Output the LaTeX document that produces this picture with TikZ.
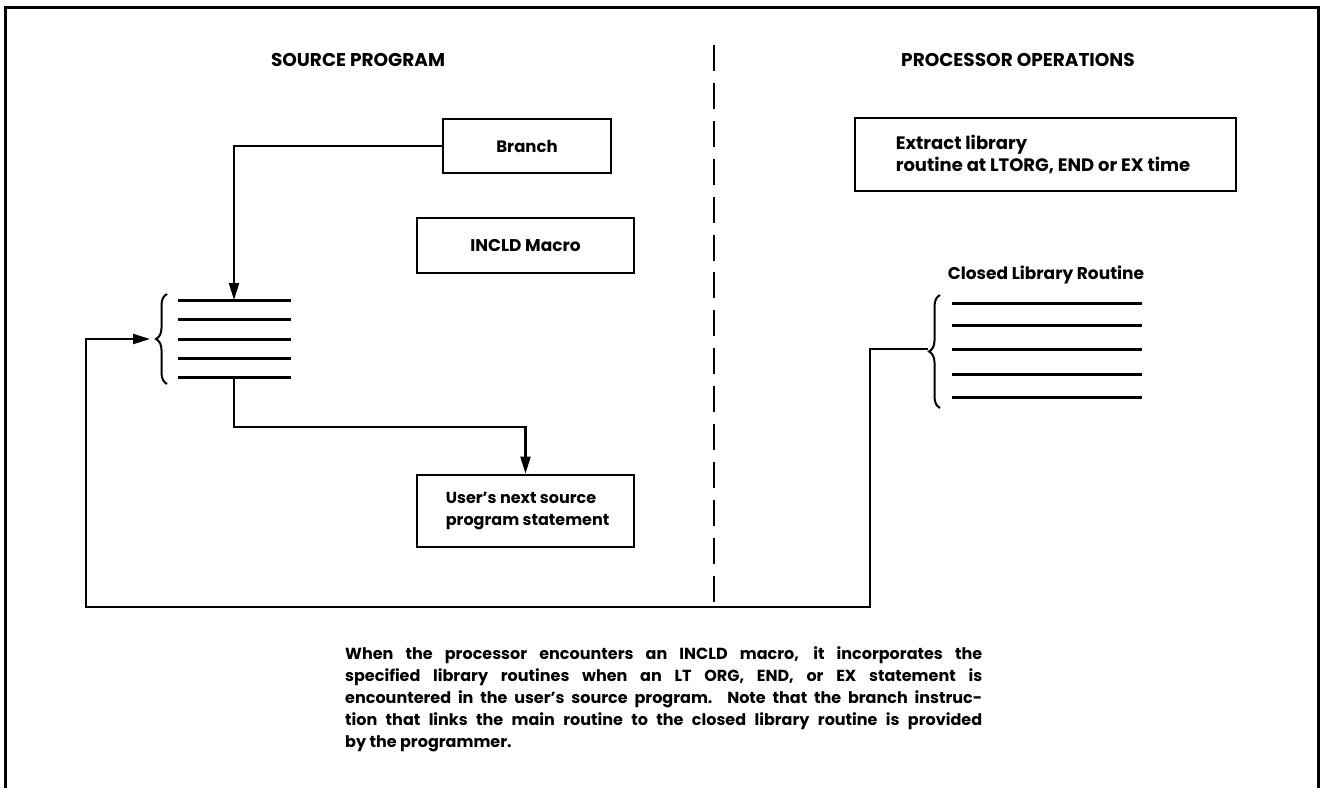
\documentclass[tikz,border=0pt]{standalone}
\usepackage{fontspec}
\setmainfont{Poppins}
\usetikzlibrary{arrows.meta,decorations.pathreplacing}
\begin{document}
\begin{tikzpicture}[x=1pt,y=-1pt,
  box/.style={draw,line width=2.8pt,inner sep=0pt,font=\bfseries\fontsize{17}{22}\selectfont},
  conn/.style={line width=2.3pt},
  arr/.style={conn,-{Triangle[length=17pt,width=10pt]}},
  rulel/.style={line width=3pt},
  bracestyle/.style={line width=2pt,decorate,decoration={brace,amplitude=11pt}},
  lbl/.style={font=\bfseries\fontsize{17}{22}\selectfont,inner sep=0pt,align=left},
  titlestyle/.style={font=\bfseries\fontsize{18.5}{22}\selectfont,inner sep=0pt},
  para/.style={font=\bfseries\fontsize{16}{22}\selectfont,inner sep=0pt,align=left}
]
\useasboundingbox (0,0) rectangle (1322,788);
% frame
\coordinate (fbl) at (5,788);
\coordinate (ftl) at (5,7);
\coordinate (ftr) at (1318,7);
\coordinate (fbr) at (1318,788);
\draw[rulel] (fbl) -- (ftl) -- (ftr) -- (fbr);

% titles
\node[titlestyle] (t1) at (358,60) {SOURCE PROGRAM};
\node[titlestyle] (t2) at (1018,60) {PROCESSOR OPERATIONS};

% dashed divider
\coordinate (dtop) at (714,45);
\coordinate (dbot) at (714,602);
\draw[line width=2.4pt,dash pattern=on 26pt off 11.9pt] (dtop) -- (dbot);

% boxes
\node[box,minimum width=168pt,minimum height=54pt,font=\bfseries\fontsize{16.5}{22}\selectfont] (br) at (527,146) {Branch};
\node[box,minimum width=217pt,minimum height=55pt] (inc) at (525.5,245.5) {INCLD Macro};
\node[box,minimum width=381pt,minimum height=73pt] (ext) at (1045.5,154.5) {};
\node[lbl,anchor=west,font=\bfseries\fontsize{18}{22}\selectfont] (extt) at ([xshift=42pt]ext.west) {Extract library\\routine at LTORG, END or EX time};
\node[box,minimum width=217pt,minimum height=72pt] (usr) at (525.5,511) {};
\node[lbl,anchor=west,font=\bfseries\fontsize{16}{22}\selectfont] (usrt) at ([xshift=30pt]usr.west) {User’s next source\\program statement};

% left statement lines
\foreach \i/\y in {1/300,2/319,3/339,4/358,5/377}{
  \coordinate (la\i) at (178,\y);
  \coordinate (lb\i) at (291,\y);
  \draw[rulel] (la\i) -- (lb\i);
}
\coordinate (lbrb) at (167,384);
\coordinate (lbrt) at (167,294);
\draw[bracestyle] (lbrb) -- (lbrt);
\coordinate (ltip) at (150,339);
\coordinate (lin) at (234,300);
\coordinate (lout) at (234,377);

% right library routine lines
\node[lbl] (clr) at (1046,275) {Closed Library Routine};
\foreach \i/\y in {1/303,2/325,3/349,4/374,5/397}{
  \coordinate (ra\i) at (952,\y);
  \coordinate (rb\i) at (1142,\y);
  \draw[rulel] (ra\i) -- (rb\i);
}
\coordinate (rbrb) at (940,408);
\coordinate (rbrt) at (940,295);
\draw[bracestyle] (rbrb) -- (rbrt);
\coordinate (rtip) at (928,349);

% connectors
\draw[arr] (br.west) -| (lin);
\coordinate (bend1) at (234,427);
\draw[arr] (lout) -- (bend1) -| (usr.north);
\coordinate (c1) at (870,349);
\coordinate (c2) at (870,607);
\coordinate (c3) at (86,607);
\coordinate (c4) at (86,339);
\draw[arr] (rtip) -- (c1) -- (c2) -- (c3) -- (c4) -- (ltip);

% caption
\node[para,anchor=north west] (cap) at (345,646) {%
\makebox[637pt][s]{When the processor encounters an INCLD macro, it incorporates the}\\
\makebox[637pt][s]{specified library routines when an LT ORG, END, or EX statement is}\\
\makebox[637pt][s]{encountered in the user’s source program. Note that the branch instruc-}\\
\makebox[637pt][s]{tion that links the main routine to the closed library routine is provided}\\
by the programmer.};
\end{tikzpicture}
\end{document}
